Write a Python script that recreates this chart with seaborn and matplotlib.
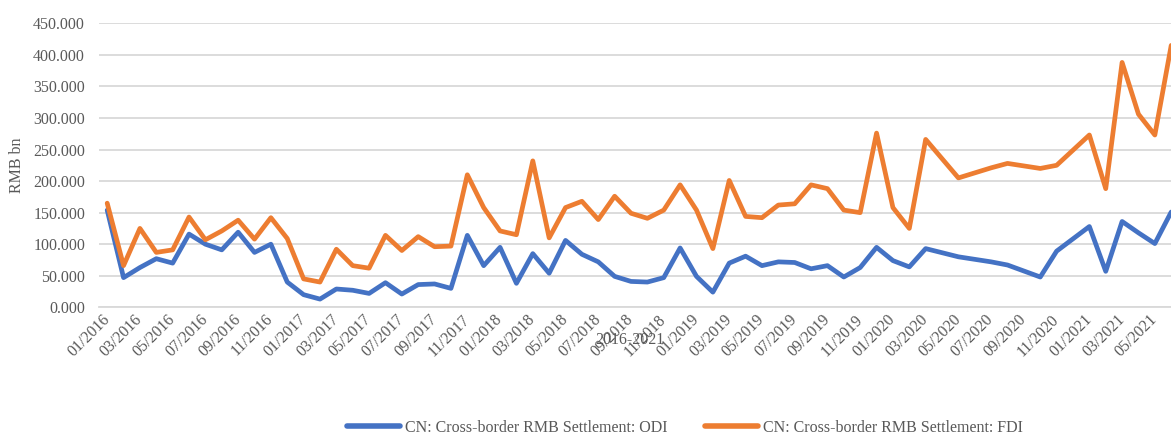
import numpy as np
import pandas as pd
import seaborn as sns
import matplotlib.pyplot as plt
from matplotlib.ticker import FuncFormatter

# months 01/2016 .. 06/2021, some 2020 months have no data
months = list(pd.date_range('2016-01-01', periods=66, freq='MS').strftime('%m/%Y'))

odi = [154, 47, 63, 77, 70, 116, 100, 91, 119, 87, 100, 40,
       20, 13, 29, 27, 22, 39, 21, 36, 37, 30, 114, 66,
       95, 38, 85, 54, 106, 84, 72, 49, 41, 40, 47, 94,
       49, 24, 70, 81, 66, 72, 71, 61, 66, 48, 63, 95,
       74, 64, 93, np.nan, 80, np.nan, 72, 67, np.nan, 48, 89, np.nan,
       128, 57, 136, 118, 101, 151]

fdi = [165, 66, 125, 87, 91, 143, 107, 121, 138, 108, 142, 109,
       45, 40, 92, 66, 62, 114, 90, 112, 96, 97, 210, 158,
       121, 115, 232, 110, 158, 168, 139, 176, 149, 141, 154, 194,
       154, 93, 201, 144, 142, 162, 164, 194, 188, 154, 150, 276,
       158, 125, 266, np.nan, 205, np.nan, 221, 228, np.nan, 220, 225, np.nan,
       273, 188, 388, 306, 273, 415]

series_names = ['CN: Cross-border RMB Settlement: ODI', 'CN: Cross-border RMB Settlement: FDI']
colors = ['#4472C4', '#ED7D31']

df = pd.DataFrame({'pos': np.arange(len(months)), series_names[0]: odi, series_names[1]: fdi})
long = df.melt(id_vars='pos', var_name='series', value_name='value').dropna()

sns.set_style('white')
plt.rcParams['font.family'] = ['Liberation Serif', 'DejaVu Serif']
grey = '#595959'
fs = 11.5

fig = plt.figure(figsize=(11.71, 4.36), dpi=100)
ax = fig.add_axes([99 / 1171, 1 - 307.3 / 436, 1080.4 / 1171, 284 / 436])

sns.lineplot(data=long, x='pos', y='value', hue='series', hue_order=series_names,
             palette=colors, linewidth=3.4, ax=ax, legend=True)

ax.set_xlim(-0.5, 65.5)
ax.set_ylim(0, 450)
ax.set_yticks(np.arange(0, 451, 50))
ax.yaxis.set_major_formatter(FuncFormatter(lambda v, p: f'{v:.3f}'))
ax.grid(axis='y', color='#D9D9D9', linewidth=1.3)
ax.set_axisbelow(True)

for s in ['top', 'right', 'left']:
    ax.spines[s].set_visible(False)
ax.spines['bottom'].set_color('#D9D9D9')
ax.spines['bottom'].set_linewidth(1.3)

ax.set_xticks(np.arange(0, 66, 2))
ax.set_xticklabels(months[::2])
ax.set_xticks(np.arange(-0.5, 66, 2), minor=True)
ax.tick_params(axis='x', which='major', length=0, pad=7, labelsize=fs, labelcolor=grey)
ax.tick_params(axis='x', which='minor', length=5, width=1.3, color='#D9D9D9')
ax.tick_params(axis='y', length=0, pad=10, labelsize=fs, labelcolor=grey)
plt.setp(ax.get_xticklabels(), rotation=45, ha='right', va='center', rotation_mode='anchor')

ax.set_xlabel('')
ax.set_ylabel('RMB bn', fontsize=fs, color=grey, va='center')
ax.yaxis.set_label_coords(-0.0755, 0.5)
fig.text(630 / 1171, 1 - 340 / 436, '2016-2021', ha='center', va='center', fontsize=fs, color=grey)

handles, labels = ax.get_legend_handles_labels()
for h in handles:
    h.set_linewidth(4)
ax.legend(handles, labels, loc='center', bbox_to_anchor=(685 / 1171, 1 - 428 / 436),
          bbox_transform=fig.transFigure, ncol=2, frameon=False, fontsize=fs,
          labelcolor=grey, handlelength=3.3, handletextpad=0.3, columnspacing=2.4)

fig.savefig('out.png', dpi=100)
